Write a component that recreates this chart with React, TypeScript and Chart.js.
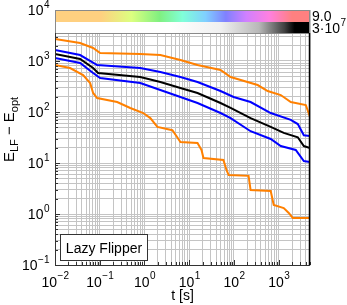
import React, { useEffect, useRef } from 'react';
import { Chart, registerables } from 'chart.js';

Chart.register(...registerables);

// ---- data (t in seconds, E_LF - E_opt) ----
const upperOrangeT = [0.01, 0.0364, 0.0711, 0.102, 0.805, 2.26, 6.35, 15.3, 50, 84, 338, 566, 1110, 1860, 4030, 5000];
const upperOrangeE = [2700, 2250, 1800, 1435, 1370, 1310, 1045, 835, 667, 485, 338, 258, 215, 157, 137, 80];

const upperBlueT = [0.01, 0.0364, 0.0676, 0.0875, 0.805, 2.26, 6.35, 15.3, 50, 98, 235, 662, 1860, 2670, 3640, 5000];
const upperBlueE = [1640, 1310, 955, 835, 729, 609, 485, 387, 258, 197, 157, 95.5, 70, 58, 35, 33.8];

const medianT = [0.01, 0.0364, 0.0711, 0.092, 0.805, 2.26, 6.35, 15.3, 50, 84, 235, 662, 1295, 2670, 3640, 5000];
const medianE = [1370, 1095, 729, 582, 485, 387, 296, 236, 150, 120, 76, 51, 39, 32, 21.5, 19.7];

const lowerBlueT = [0.01, 0.0364, 0.0711, 0.102, 0.805, 2.26, 6.35, 15.3, 50, 84, 235, 662, 1110, 2400, 3640, 5000];
const lowerBlueE = [1145, 915, 582, 464, 370, 270, 197, 150, 95.5, 76, 42, 29.6, 21.5, 18, 10.9, 10.5];

const lowerOrangeT = [0.01, 0.0217, 0.0425, 0.061, 0.0711, 0.0875, 0.245, 0.481, 0.94, 1.35, 1.94, 4.2, 5.4, 6.35, 15.3, 18.8, 20.8, 58, 68, 76, 212, 235, 662, 773, 1295, 1675, 2060, 5000];
const lowerOrangeE = [835, 729, 531, 370, 236, 188, 157, 120, 95.5, 76, 51, 44, 32, 25.8, 24.7, 18, 12.5, 11.5, 7.3, 5.8, 5.6, 2.96, 2.83, 1.5, 1.31, 1.05, 0.835, 0.835];

// ---- axes ----
const xMin = 0.01;
const xMax = 5000;
const yMin = 0.1;
const yMax = 10000;
const xTickExponents = [-2, -1, 0, 1, 2, 3];
const yTickExponents = [-1, 0, 1, 2, 3, 4];
const xTitle = 't [s]';
const legendLabel = 'Lazy Flipper';
const colorbarTopLabel = '9.0';
const colorbarBottomBase = '3·10';
const colorbarBottomExp = '7';

const rainbowColors = ['#ffd080', '#ffd080', '#dcff80', '#80f080', '#80ffd8', '#80d0ff', '#8080ff', '#d080ff', '#ff80e0', '#ff8080', '#ff8080'];
const rainbowStops = [0, 0.18, 0.3, 0.41, 0.5, 0.59, 0.67, 0.75, 0.84, 0.93, 1];

const ORANGE = '#ff8000';
const BLUE = '#0000ff';
const BLACK = '#000000';
const FONT = "'Liberation Sans', Arial, Helvetica, sans-serif";

function gridValues(minV: number, maxV: number): number[] {
  const out: number[] = [];
  for (let e = Math.floor(Math.log10(minV)); e <= Math.ceil(Math.log10(maxV)); e++) {
    for (let m = 1; m <= 9; m++) {
      const v = m * Math.pow(10, e);
      if (v >= minV * 0.9999 && v <= maxV * 1.0001) out.push(v);
    }
  }
  return out;
}

function series(ts: number[], es: number[], color: string) {
  return {
    data: ts.map((t, i) => ({ x: t, y: es[i] })),
    borderColor: color,
    backgroundColor: color,
    borderWidth: 2,
    pointRadius: 0,
    tension: 0,
    fill: false,
  };
}

const decorPlugin = {
  id: 'decor',
  beforeDraw(chart: any) {
    const { ctx, width, height } = chart;
    ctx.save();
    ctx.fillStyle = '#ffffff';
    ctx.fillRect(0, 0, width, height);
    ctx.restore();
  },
  afterDraw(chart: any) {
    const ctx: CanvasRenderingContext2D = chart.ctx;
    const xs = chart.scales.x;
    const ys = chart.scales.y;
    const ca = chart.chartArea;
    ctx.save();

    // colorbar
    const cbTop = ca.top;
    const cbMid = ca.top + 12;
    const cbBot = ca.top + 23;
    const g1 = ctx.createLinearGradient(ca.left, 0, ca.right, 0);
    rainbowColors.forEach((c, i) => g1.addColorStop(rainbowStops[i], c));
    ctx.fillStyle = g1;
    ctx.fillRect(ca.left, cbTop, ca.right - ca.left, cbMid - cbTop);
    const g2 = ctx.createLinearGradient(ca.left, 0, ca.right, 0);
    g2.addColorStop(0, '#ffffff');
    g2.addColorStop(0.45, '#ffffff');
    g2.addColorStop(0.65, '#f0f0f0');
    g2.addColorStop(0.8, '#b8b8b8');
    g2.addColorStop(0.9, '#404040');
    g2.addColorStop(0.94, '#000000');
    g2.addColorStop(1, '#000000');
    ctx.fillStyle = g2;
    ctx.fillRect(ca.left, cbMid, ca.right - ca.left, cbBot - cbMid);
    ctx.strokeStyle = '#8a8a8a';
    ctx.lineWidth = 1;
    ctx.strokeRect(Math.round(ca.left) + 0.5, Math.round(cbTop) + 0.5, Math.round(ca.right - ca.left) - 1, Math.round(cbBot - cbTop));

    // inner tick marks
    ctx.strokeStyle = '#333333';
    ctx.lineWidth = 1;
    ctx.beginPath();
    gridValues(yMin, yMax).forEach((v) => {
      const y = Math.round(ys.getPixelForValue(v)) + 0.5;
      if (y < cbBot) return;
      const major = Math.abs(Math.log10(v) - Math.round(Math.log10(v))) < 1e-6;
      ctx.moveTo(ca.left, y);
      ctx.lineTo(ca.left + (major ? 5 : 3), y);
    });
    gridValues(xMin, xMax).forEach((v) => {
      const x = Math.round(xs.getPixelForValue(v)) + 0.5;
      const major = Math.abs(Math.log10(v) - Math.round(Math.log10(v))) < 1e-6;
      ctx.moveTo(x, ca.bottom);
      ctx.lineTo(x, ca.bottom - (major ? 5 : 3));
    });
    ctx.stroke();

    // axis box
    ctx.strokeStyle = '#333333';
    ctx.beginPath();
    ctx.moveTo(Math.round(ca.left) + 0.5, cbBot);
    ctx.lineTo(Math.round(ca.left) + 0.5, Math.round(ca.bottom) + 0.5);
    ctx.lineTo(Math.round(ca.right) - 0.5, Math.round(ca.bottom) + 0.5);
    ctx.stroke();
    ctx.strokeStyle = '#000000';
    ctx.lineWidth = 1.5;
    ctx.beginPath();
    ctx.moveTo(Math.round(ca.right) - 0.5, cbBot);
    ctx.lineTo(Math.round(ca.right) - 0.5, Math.round(ca.bottom) + 0.5);
    ctx.stroke();

    // tick labels
    ctx.fillStyle = '#000000';
    ctx.textBaseline = 'alphabetic';
    ctx.textAlign = 'left';
    const baseFont = `14px ${FONT}`;
    const supFont = `10px ${FONT}`;
    const fmtExp = (e: number) => (e < 0 ? '\u2212' + Math.abs(e) : String(e));

    yTickExponents.forEach((e) => {
      const y = ys.getPixelForValue(Math.pow(10, e));
      ctx.font = baseFont;
      const wb = ctx.measureText('10').width;
      ctx.font = supFont;
      const es = fmtExp(e);
      const we = ctx.measureText(es).width;
      const right = ca.left - 6;
      const x0 = right - wb - we;
      ctx.font = baseFont;
      ctx.fillText('10', x0, y + 5);
      ctx.font = supFont;
      ctx.fillText(es, x0 + wb + 0.5, y - 2);
    });

    xTickExponents.forEach((e) => {
      const x = xs.getPixelForValue(Math.pow(10, e));
      ctx.font = baseFont;
      const wb = ctx.measureText('10').width;
      ctx.font = supFont;
      const es = fmtExp(e);
      const we = ctx.measureText(es).width;
      const x0 = x - (wb + we) / 2;
      ctx.font = baseFont;
      ctx.fillText('10', x0, ca.bottom + 22);
      ctx.font = supFont;
      ctx.fillText(es, x0 + wb + 0.5, ca.bottom + 14);
    });

    // x title
    ctx.font = `14px ${FONT}`;
    ctx.textAlign = 'center';
    ctx.fillText(xTitle, (ca.left + ca.right) / 2, ca.bottom + 35);

    // y title (rotated) E_LF - E_opt
    const parts: [string, boolean][] = [['E', false], ['LF', true], [' \u2212 E', false], ['opt', true]];
    const mainF = `15px ${FONT}`;
    const subF = `11px ${FONT}`;
    let total = 0;
    parts.forEach(([s, sub]) => {
      ctx.font = sub ? subF : mainF;
      total += ctx.measureText(s).width;
    });
    ctx.save();
    ctx.translate(14, (ca.top + ca.bottom) / 2 - 8);
    ctx.rotate(-Math.PI / 2);
    ctx.textAlign = 'left';
    let cx = -total / 2;
    parts.forEach(([s, sub]) => {
      ctx.font = sub ? subF : mainF;
      ctx.fillText(s, cx, sub ? 4 : 0);
      cx += ctx.measureText(s).width;
    });
    ctx.restore();

    // colorbar labels
    ctx.textAlign = 'left';
    ctx.font = baseFont;
    ctx.fillText(colorbarTopLabel, ca.right + 2, cbTop + 11);
    const wcb = ctx.measureText(colorbarBottomBase).width;
    ctx.fillText(colorbarBottomBase, ca.right + 2, cbBot);
    ctx.font = supFont;
    ctx.fillText(colorbarBottomExp, ca.right + 2 + wcb + 0.5, cbBot - 7);

    // legend box
    const bx = ca.left + 5.5;
    const bw = 87;
    const bh = 26;
    const by = Math.round(ca.bottom) - 4.5 - bh;
    ctx.fillStyle = '#ffffff';
    ctx.fillRect(bx, by, bw, bh);
    ctx.strokeStyle = '#333333';
    ctx.lineWidth = 1;
    ctx.strokeRect(bx, by, bw, bh);
    ctx.fillStyle = '#000000';
    ctx.font = `14px ${FONT}`;
    ctx.textAlign = 'center';
    ctx.fillText(legendLabel, bx + bw / 2, by + bh / 2 + 5);

    ctx.restore();
  },
};

export default function App() {
  const canvasRef = useRef<HTMLCanvasElement | null>(null);

  useEffect(() => {
    const canvas = canvasRef.current;
    if (!canvas) return;
    const xGrid = gridValues(xMin, xMax);
    const yGrid = gridValues(yMin, yMax);
    const chart = new Chart(canvas, {
      type: 'line',
      data: {
        datasets: [
          series(upperOrangeT, upperOrangeE, ORANGE),
          series(upperBlueT, upperBlueE, BLUE),
          series(medianT, medianE, BLACK),
          series(lowerBlueT, lowerBlueE, BLUE),
          series(lowerOrangeT, lowerOrangeE, ORANGE),
        ] as any,
      },
      options: {
        animation: false,
        responsive: false,
        devicePixelRatio: 1,
        layout: { padding: { left: 55, right: 37, top: 10, bottom: 40 } },
        plugins: { legend: { display: false }, tooltip: { enabled: false } },
        scales: {
          x: {
            type: 'logarithmic',
            min: xMin,
            max: xMax,
            ticks: { display: false },
            grid: { color: '#c4c4c4', lineWidth: 1, drawTicks: false },
            border: { display: false },
            afterBuildTicks: (s: any) => {
              s.ticks = xGrid.map((v) => ({ value: v }));
            },
          },
          y: {
            type: 'logarithmic',
            min: yMin,
            max: yMax,
            ticks: { display: false },
            grid: { color: '#c4c4c4', lineWidth: 1, drawTicks: false },
            border: { display: false },
            afterBuildTicks: (s: any) => {
              s.ticks = yGrid.map((v) => ({ value: v }));
            },
          },
        },
      } as any,
      plugins: [decorPlugin],
    });
    return () => chart.destroy();
  }, []);

  return (
    <div style={{ position: 'fixed', left: 0, top: 0, width: 347, height: 305 }}>
      <canvas ref={canvasRef} width={347} height={305} style={{ display: 'block' }} />
    </div>
  );
}
